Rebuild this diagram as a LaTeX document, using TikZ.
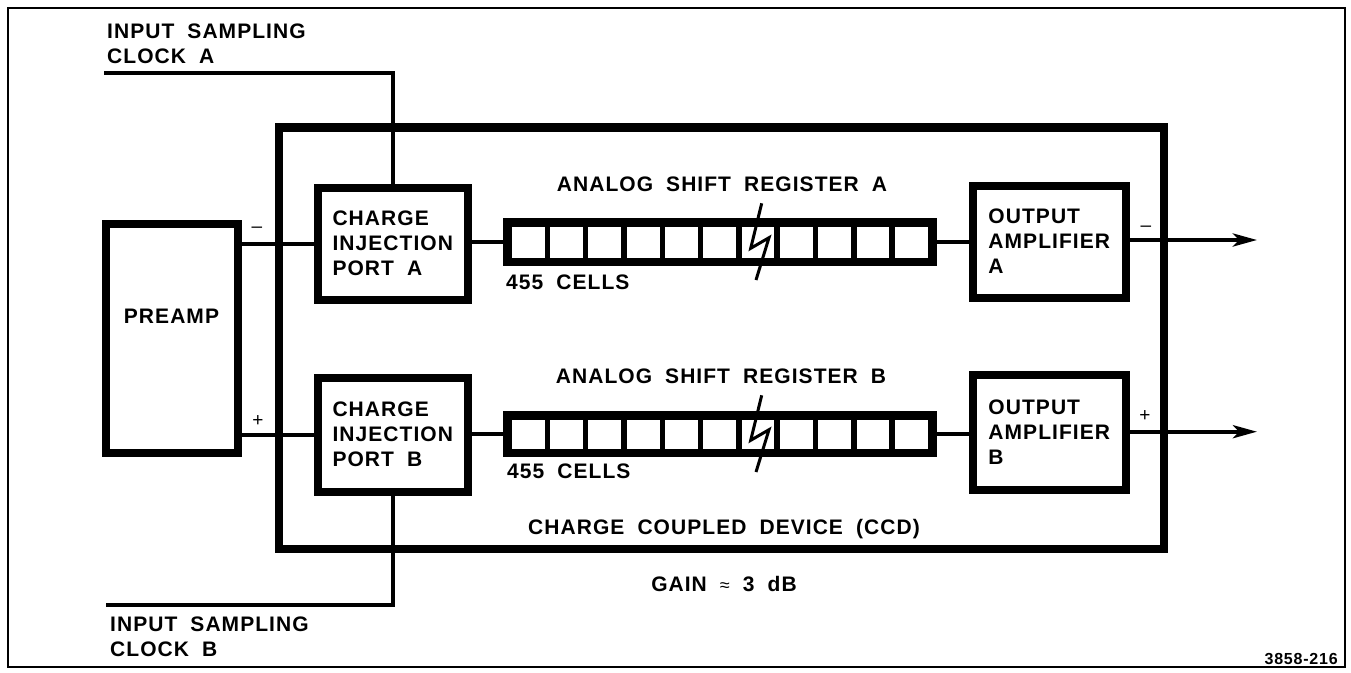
\documentclass[tikz,border=0pt]{standalone}
\usepackage{fontspec}
\setmainfont{Liberation Sans}[LetterSpace=5, WordSpace=1.9]
\usetikzlibrary{arrows.meta,calc}
\begin{document}
\begin{tikzpicture}[x=1pt,y=-1pt,
  txt/.style={font=\fontsize{21}{25}\selectfont\bfseries, inner sep=0pt, align=left},
  heavybox/.style={draw, line width=8pt, inner sep=0pt, align=left, font=\fontsize{21}{25}\selectfont\bfseries},
  regbar/.style={fill=black, inner sep=0pt, minimum width=434pt},
  wire/.style={line width=4pt},
  sig/.style={font=\fontsize{19}{19}\selectfont, inner sep=0pt},
  outarrow/.style={line width=4pt, -{Stealth[length=24pt, width=13pt, inset=6pt]}}
]
\useasboundingbox (0,0) rectangle (1351,672);
\draw[line width=2.5pt] (8,8) rectangle (1345,667);

% CCD enclosure
\node[draw, line width=8.5pt, minimum width=885pt, minimum height=421.5pt] (ccd) at (721.5,338.25) {};

% blocks
\node[heavybox, minimum width=131.5pt, minimum height=228.5pt] (preamp) at (171.75,338.25) {};
\node[txt, anchor=center] (preamptxt) at (171.5,316.5) {PREAMP};
\node[heavybox, minimum width=150.5pt, minimum height=112pt] (cipA) at (392.75,243.5) {CHARGE\\INJECTION\\PORT A};
\node[heavybox, minimum width=150.5pt, minimum height=113.5pt] (cipB) at (392.75,434.75) {CHARGE\\INJECTION\\PORT B};
\node[heavybox, minimum width=153.5pt, minimum height=112pt] (oaA) at (1049.25,241.5) {OUTPUT\\AMPLIFIER\\A};
\node[heavybox, minimum width=153.5pt, minimum height=114.5pt] (oaB) at (1049.25,432.25) {OUTPUT\\AMPLIFIER\\B};

% shift registers
\node[regbar, minimum height=48pt] (regA) at (720,242) {};
\node[regbar, minimum height=46pt] (regB) at (720,434) {};
\foreach \r in {regA,regB}{
  \foreach \i in {0,...,10}{
    \fill[white] ($(\r.north west)+(9+\i*38.3,9)$) rectangle ($(\r.south west)+(9+\i*38.3+32.8,-8)$);
  }
  \draw[line width=3pt] ($(\r.center)+(41.7,-38.7)$) -- ++(-11,45) -- ++(18.3,-10.6) -- ++(-13,42.3);
}

% labels
\node[txt, anchor=base] (regAtxt) at (722,191) {ANALOG SHIFT REGISTER A};
\node[txt, anchor=base] (regBtxt) at (721,383) {ANALOG SHIFT REGISTER B};
\node[txt, anchor=base west] (cellsA) at (506,289) {455 CELLS};
\node[txt, anchor=base west] (cellsB) at (507,478) {455 CELLS};
\node[txt, anchor=base] (ccdtxt) at (724,534.5) {CHARGE COUPLED DEVICE (CCD)};
\node[txt, anchor=base] (gain) at (724,591.5) {GAIN {\fontsize{18}{18}\selectfont\mdseries ≈} 3 dB};
\node[txt, anchor=base west] (clkAtxt) at (107,63) {INPUT SAMPLING\\CLOCK A};
\node[txt, anchor=base west] (clkBtxt) at (110,656) {INPUT SAMPLING\\CLOCK B};
\node[font=\fontsize{16}{16}\selectfont\bfseries, inner sep=0pt, anchor=base east] (fig) at (1338,664) {3858-216};

% connectors
\coordinate (clkA) at (104,73.3);
\coordinate (clkB) at (106,605);
\draw[wire] (clkA) -| (cipA.north);
\draw[wire] (cipB.south) |- (clkB);
\draw[wire] (cipA.west) -- (cipA.west -| preamp.east);
\draw[wire] (cipB.west) -- (cipB.west -| preamp.east);
\draw[wire] (regA.west) -- (regA.west -| cipA.east);
\draw[wire] (regB.west) -- (regB.west -| cipB.east);
\draw[wire] (regA.east) -- (regA.east -| oaA.west);
\draw[wire] (regB.east) -- (regB.east -| oaB.west);
\coordinate (outA) at (1257,240);
\coordinate (outB) at (1257,431.7);
\draw[outarrow] (oaA.east |- outA) -- (outA);
\draw[outarrow] (oaB.east |- outB) -- (outB);

% polarity signs
\node[sig] (mA) at (257,230) {–};
\node[sig] (pA) at (258,421.5) {+};
\node[sig] (mO) at (1146,229) {–};
\node[sig] (pO) at (1145,416.5) {+};
\end{tikzpicture}
\end{document}
